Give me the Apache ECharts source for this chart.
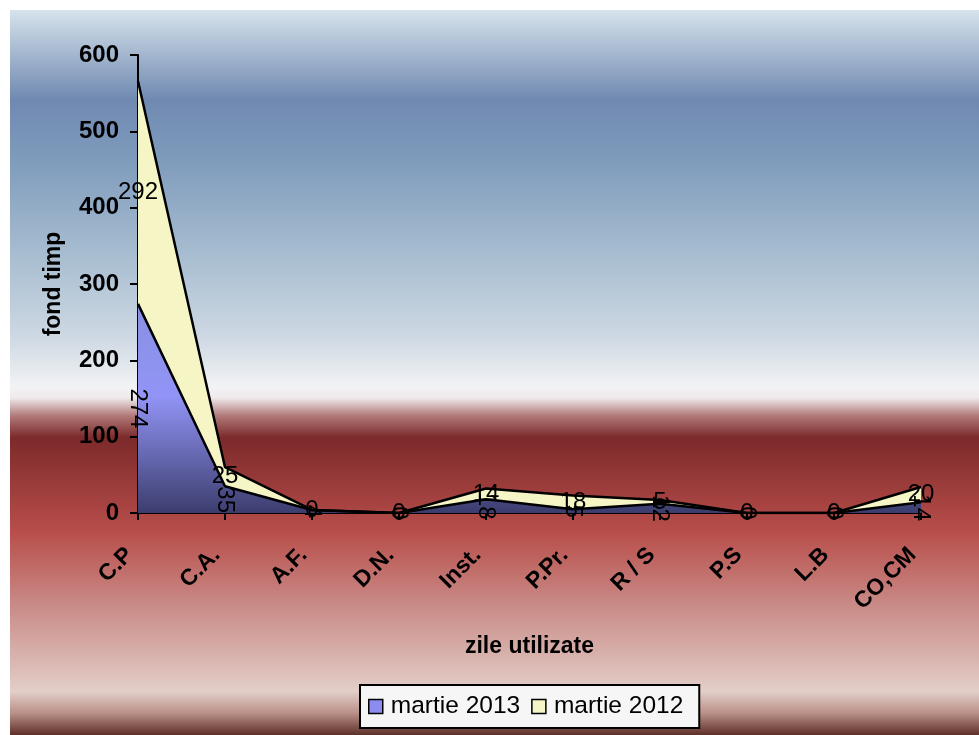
<!DOCTYPE html>
<html>
<head>
<meta charset="utf-8">
<script src="https://cdn.jsdelivr.net/npm/echarts@6/dist/echarts.min.js"></script>
<style>
html,body{margin:0;padding:0;background:#fff;}
#chart{width:979px;height:735px;}
</style>
</head>
<body>
<div id="chart"></div>
<script>
const categories = ['C.P', 'C.A.', 'A.F.', 'D.N.', 'Inst.', 'P.Pr.', 'R / S', 'P.S', 'L.B', 'CO,CM'];
const martie2013 = [274, 35, 4, 0, 18, 5, 12, 0, 0, 14];
const martie2012 = [292, 25, 0, 0, 14, 18, 5, 0, 0, 20];
const yTicks = [0, 100, 200, 300, 400, 500, 600];

const FONT = 'Liberation Sans, Arial, sans-serif';
const chart = echarts.init(document.getElementById('chart'));

const blueGradient = new echarts.graphic.LinearGradient(0, 300, 0, 513, [
  {offset: 0, color: '#8790e0'},
  {offset: 0.45, color: '#9294f6'},
  {offset: 1, color: '#3c3d6e'}
], true);

const bgGradient = new echarts.graphic.LinearGradient(0, 0, 0, 1, [
  {offset: 0, color: '#d6e3ec'},
  {offset: 0.124, color: '#7089b1'},
  {offset: 0.2, color: '#7d9abb'},
  {offset: 0.33, color: '#a5bbcf'},
  {offset: 0.45, color: '#cdd8e3'},
  {offset: 0.52, color: '#f2f3f5'},
  {offset: 0.535, color: '#efe9ea'},
  {offset: 0.56, color: '#b07878'},
  {offset: 0.59, color: '#7c2a2a'},
  {offset: 0.72, color: '#b84e4b'},
  {offset: 0.82, color: '#c98a86'},
  {offset: 0.94, color: '#e3cec8'},
  {offset: 0.97, color: '#b99088'},
  {offset: 1, color: '#5d2f28'}
]);

const blueMid = martie2013.map((v, i) => [i, v / 2]);
const yellowMid = martie2012.map((v, i) => [i, martie2013[i] + v / 2]);

const labelText = {
  fontFamily: FONT, fontSize: 24, fontWeight: 'normal', color: '#000000',
  opacity: 1, textBorderWidth: 0, textShadowBlur: 0,
  position: [0, 0], align: 'center', verticalAlign: 'middle'
};

chart.setOption({
  animation: false,
  graphic: [{
    type: 'rect',
    z: -100,
    silent: true,
    shape: {x: 10, y: 10, width: 969, height: 725},
    style: {fill: bgGradient}
  }],
  grid: {left: 138, right: 58, top: 55, bottom: 222},
  legend: {
    left: 360,
    top: 685,
    data: [
      {name: 'martie 2013', itemStyle: {color: '#8c8cf0', borderColor: '#000', borderWidth: 1.5}},
      {name: 'martie 2012', itemStyle: {color: '#f5f5c5', borderColor: '#000', borderWidth: 1.5}}
    ],
    icon: 'rect',
    itemWidth: 14,
    itemHeight: 14,
    itemGap: 11,
    backgroundColor: '#f6f6f6',
    borderColor: '#000',
    borderWidth: 2,
    borderRadius: 0,
    padding: [9, 16, 9, 8],
    textStyle: {fontFamily: FONT, fontSize: 24.5, color: '#000', padding: [0, 0, 0, 3]}
  },
  xAxis: {
    type: 'category',
    data: categories,
    boundaryGap: false,
    name: 'zile utilizate',
    nameLocation: 'middle',
    nameGap: 122,
    nameTextStyle: {fontFamily: FONT, fontSize: 23, fontWeight: 'bold', color: '#000'},
    axisLine: {lineStyle: {color: '#000', width: 2}},
    axisTick: {show: true, length: 7, lineStyle: {color: '#000', width: 2}},
    axisLabel: {
      rotate: 45, interval: 0, margin: 30, padding: [0, 12, 0, 0],
      fontFamily: FONT, fontSize: 23, fontWeight: 'bold', color: '#000'
    },
    splitLine: {show: false}
  },
  yAxis: {
    type: 'value',
    min: yTicks[0],
    max: yTicks[yTicks.length - 1],
    interval: yTicks[1] - yTicks[0],
    name: 'fond timp',
    nameLocation: 'middle',
    nameGap: 73,
    nameTextStyle: {fontFamily: FONT, fontSize: 23, fontWeight: 'bold', color: '#000'},
    axisLine: {show: true, lineStyle: {color: '#000', width: 2}},
    axisTick: {show: true, length: 8, lineStyle: {color: '#000', width: 2}},
    axisLabel: {margin: 19, fontFamily: FONT, fontSize: 24, fontWeight: 'bold', color: '#000'},
    splitLine: {show: false}
  },
  series: [
    {
      name: 'martie 2013',
      type: 'line',
      stack: 'total',
      data: martie2013,
      symbol: 'none',
      itemStyle: {color: '#8c8cf0'},
      lineStyle: {color: '#000', width: 2.5},
      areaStyle: {color: blueGradient, opacity: 1},
      z: 2
    },
    {
      name: 'martie 2012',
      type: 'line',
      stack: 'total',
      data: martie2012,
      symbol: 'none',
      itemStyle: {color: '#f5f5c5'},
      lineStyle: {color: '#000', width: 2.5},
      areaStyle: {color: '#f5f5c5', opacity: 1},
      z: 2
    },
    {
      name: 'lbl2013',
      type: 'scatter',
      data: blueMid,
      symbolSize: 0,
      itemStyle: {opacity: 1},
      silent: true,
      z: 5,
      label: Object.assign({
        show: true, rotate: -90,
        formatter: p => String(martie2013[p.dataIndex])
      }, labelText)
    },
    {
      name: 'lbl2012',
      type: 'scatter',
      data: yellowMid,
      symbolSize: 0,
      itemStyle: {opacity: 1},
      silent: true,
      z: 5,
      label: Object.assign({
        show: true,
        formatter: p => String(martie2012[p.dataIndex])
      }, labelText)
    }
  ]
});
</script>
</body>
</html>
